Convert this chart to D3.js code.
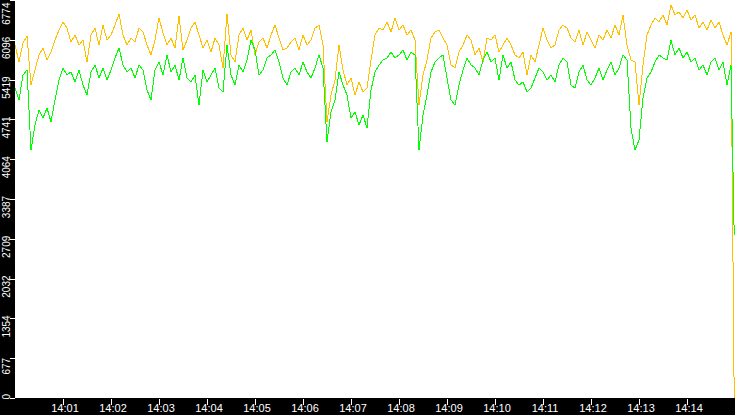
<!DOCTYPE html>
<html>
<head>
<meta charset="utf-8">
<script src="https://d3js.org/d3.v7.min.js"></script>
<style>
    html, body { margin: 0; padding: 0; background: #000; overflow: hidden; }
    svg { display: block; }
    .axis text { fill: #fff; font-family: "Liberation Sans", Arial, sans-serif; }
    .axis line { stroke: #fff; shape-rendering: crispEdges; }
    .series { fill: none; stroke-width: 1; shape-rendering: crispEdges; }
</style>
</head>
<body>
<svg id="chart" width="735" height="415"></svg>
<script>

// time range of the capture, one sample every 5 s
var startTime = "14:00:00";
var endTime = "14:15:00";
var stepSeconds = 5;

var yTickLabels = ["0", "677", "1354", "2032", "2709", "3387", "4064", "4741", "5419", "6096", "6774"];
var xTickLabels = ["14:01", "14:02", "14:03", "14:04", "14:05", "14:06", "14:07",
    "14:08", "14:09", "14:10", "14:11", "14:12", "14:13", "14:14"];

// orange series
var orangeValues = [
    6008, 5719, 6042, 6161, 5327, 5583, 5838, 5957, 5753, 5889,
    6093, 6263, 6400, 6297, 6059, 6178, 6008, 6093, 5719, 6178,
    6297, 6008, 6348, 6093, 6178, 6348, 6536, 6178, 6008, 6127,
    6059, 6297, 6229, 6008, 5838, 6093, 6468, 6212, 6008, 6127,
    5957, 6502, 5923, 6093, 6297, 6400, 6178, 5957, 6093, 5889,
    6127, 6008, 5617, 6536, 5838, 5719, 6178, 6297, 6093, 6263,
    5838, 6059, 6127, 5957, 6178, 6348, 6127, 5923, 5957, 6059,
    6127, 5923, 6178, 6008, 6093, 6297, 6348, 6008, 4698, 5157,
    5412, 6008, 5583, 5327, 5446, 5157, 5378, 5208, 5276, 5753,
    6178, 6297, 6263, 6400, 6229, 6468, 6263, 6348, 6178, 6263,
    6093, 4987, 5497, 5753, 6127, 6229, 6263, 6127, 6008, 5668,
    5617, 5889, 6008, 6178, 6093, 5838, 5957, 5719, 6127, 6093,
    6178, 5889, 6008, 6127, 6008, 5838, 5787, 5889, 5497, 5838,
    5719, 6008, 6297, 6093, 5957, 6008, 6263, 6348, 6297, 6127,
    6059, 6263, 6008, 6229, 6093, 5957, 6178, 6093, 6263, 6127,
    6348, 6178, 6519, 6008, 5753, 5719, 4987, 5668, 6178, 6348,
    6468, 6400, 6519, 6348, 6689, 6519, 6570, 6468, 6604, 6434,
    6519, 6297, 6400, 6263, 6434, 6297, 6400, 6178, 6008, 6229
];

// green series
var greenValues = [
    5276, 5072, 5497, 5583, 4221, 4646, 4902, 4766, 4936, 4698,
    5072, 5412, 5617, 5497, 5549, 5378, 5583, 5327, 5157, 5549,
    5668, 5446, 5617, 5412, 5583, 5787, 5957, 5668, 5549, 5617,
    5446, 5668, 5583, 5242, 5072, 5583, 5719, 5497, 5838, 5549,
    5668, 5412, 5787, 5446, 5378, 5497, 4987, 5583, 5378, 5497,
    5617, 5276, 5208, 6008, 5497, 5327, 5668, 5549, 5753, 6093,
    5923, 5497, 5583, 5787, 5838, 5923, 5719, 5446, 5327, 5549,
    5617, 5497, 5719, 5549, 5446, 5617, 5838, 5617, 4357, 4868,
    5072, 5549, 5327, 5157, 4766, 4868, 4646, 4817, 4595, 5242,
    5549, 5668, 5753, 5787, 5889, 5787, 5838, 5923, 5753, 5889,
    5838, 4221, 4817, 5157, 5549, 5719, 5787, 5838, 5446, 5072,
    4987, 5327, 5583, 5787, 5668, 5617, 5497, 5753, 5889, 5719,
    5787, 5412, 5838, 5617, 5719, 5412, 5327, 5378, 5208, 5276,
    5446, 5617, 5549, 5412, 5497, 5378, 5668, 5787, 5719, 5327,
    5276, 5549, 5668, 5412, 5327, 5446, 5617, 5412, 5583, 5719,
    5497, 5617, 5838, 5753, 4595, 4221, 4391, 5106, 5446, 5549,
    5719, 5838, 5787, 5753, 6093, 5838, 5957, 5787, 5889, 5719,
    5787, 5583, 5668, 5497, 5719, 5787, 5583, 5719, 5327, 5668
];

// last sample, where both series fall off
var lastTime = "14:14:59";
var lastOrange = 0;
var lastGreen = 2780;

var colors = {"orange": "#ffc000", "green": "#00ff00"};

var width = 735, height = 415;
var margin = {left: 15, bottom: 17};

var svg = d3.select("#chart");

var parseTime = d3.timeParse("%H:%M:%S");
var t0 = parseTime(startTime);

function buildSeries(values, lastValue) {
    var points = values.map(function (v, i) {
        return {"time": d3.timeSecond.offset(t0, i * stepSeconds), "value": v};
    });
    points.push({"time": parseTime(lastTime), "value": lastValue});
    return points;
}

var x = d3.scaleTime()
    .domain([t0, parseTime(endTime)])
    .range([margin.left, width]);

var y = d3.scaleLinear()
    .domain([0, +yTickLabels[yTickLabels.length - 1]])
    .range([height - margin.bottom, 0]);

// black frame + white plot area
svg.append("rect")
    .attr("width", width).attr("height", height)
    .attr("fill", "#000");

svg.append("rect")
    .attr("x", margin.left).attr("y", 0)
    .attr("width", width - margin.left)
    .attr("height", height - margin.bottom)
    .attr("fill", "#fff");

svg.append("clipPath").attr("id", "plot-clip")
    .append("rect")
    .attr("x", margin.left).attr("y", 0)
    .attr("width", width - margin.left)
    .attr("height", height - margin.bottom);

var line = d3.line()
    .x(function (d) { return x(d.time); })
    .y(function (d) { return y(d.value); });

var lines = svg.append("g").attr("clip-path", "url(#plot-clip)");

lines.append("path")
    .attr("class", "series")
    .attr("stroke", colors.orange)
    .attr("d", line(buildSeries(orangeValues, lastOrange)));

lines.append("path")
    .attr("class", "series")
    .attr("stroke", colors.green)
    .attr("d", line(buildSeries(greenValues, lastGreen)));

// x axis
var xAxis = d3.axisBottom(x)
    .tickValues(xTickLabels.map(function (s) { return parseTime(s + ":00"); }))
    .tickFormat(d3.timeFormat("%H:%M"))
    .tickSize(6)
    .tickSizeOuter(0);

var gx = svg.append("g")
    .attr("class", "axis")
    .attr("transform", "translate(0," + (height - margin.bottom + 1) + ")")
    .call(xAxis);

gx.select(".domain").remove();
gx.selectAll("text")
    .attr("x", 1.5)
    .attr("y", margin.bottom - 4)
    .attr("dy", 0)
    .style("font-size", "11px");

// y axis, labels rotated and hung just under their tick
var yAxis = d3.axisLeft(y)
    .tickValues(yTickLabels.map(function (s) { return +s; }))
    .tickFormat(function (d, i) { return yTickLabels[i]; })
    .tickSize(5)
    .tickSizeOuter(0);

var gy = svg.append("g")
    .attr("class", "axis")
    .attr("transform", "translate(" + margin.left + ",0)")
    .call(yAxis);

gy.select(".domain").remove();
gy.selectAll("text")
    .attr("transform", "rotate(-90)")
    .attr("text-anchor", "middle")
    .attr("dy", 0)
    .attr("y", -5)
    .style("font-size", "10px")
    .each(function (d) {
        var w = this.getComputedTextLength();
        var ty = y(d);
        var centre = ty + 7.5;
        if (centre - w / 2 < 2) centre = 2 + w / 2;
        if (centre + w / 2 > height - margin.bottom + 1) centre = height - margin.bottom + 1 - w / 2;
        d3.select(this).attr("x", -(centre - ty));
    });

</script>
</body>
</html>
